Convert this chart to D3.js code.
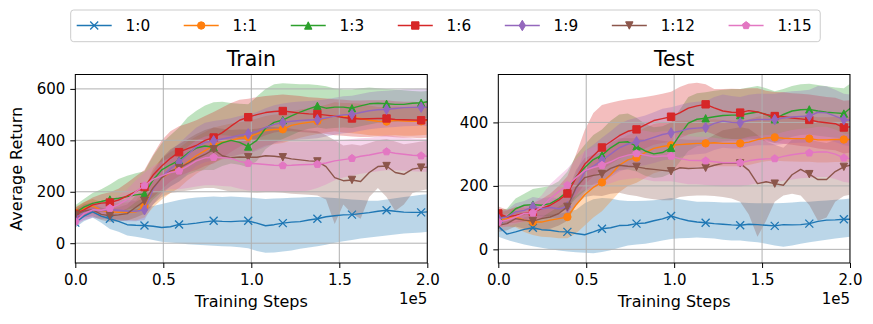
<!DOCTYPE html>
<html><head><meta charset="utf-8">
<script src="https://cdn.jsdelivr.net/npm/d3@7"></script>
<style>body{margin:0;background:#fff} svg text{font-family:"DejaVu Sans",sans-serif;fill:#000}</style>
</head><body><svg id="chart" width="873" height="324"></svg>
<script>
const seriesLabels = ["1:0","1:1","1:3","1:6","1:9","1:12","1:15"];
const seriesColors = ["#1f77b4","#ff7f0e","#2ca02c","#d62728","#9467bd","#8c564b","#e377c2"];
const seriesMarkers = ["x","o","^","s","d","v","p"];
const steps = [0,4910,9830,14740,19650,24560,29480,34390,39300,44210,49130,54040,58950,63860,68780,73690,78600,83510,88430,93340,98250,103160,108080,112990,117900,122810,127730,132640,137550,142460,147380,152290,157200,162110,167030,171940,176850,181760,186680,191590,196500,200000];
const markEvery = 4;
const xTicks = [0,50000,100000,150000,200000];
const trainYTicks = [0,200,400,600];
const testYTicks = [0,200,400];

const trainMean = [
 [80,105,122,105,95,85,72,70,69,66,61,64,73,74,78,83,87,85,84,86,87,78,68,72,78,82,84,90,95,103,107,110,111,115,119,124,128,124,121,120,120,122],
 [118,135,145,128,122,120,120,122,145,214,255,275,290,315,340,360,380,393,400,408,413,425,438,442,443,458,465,470,475,485,497,492,490,485,478,474,473,478,475,474,474,478],
 [118,140,155,162,170,175,181,188,192,246,285,305,322,350,370,378,373,390,400,392,376,400,447,470,479,495,510,522,534,525,529,529,525,534,542,544,542,540,540,544,546,550],
 [114,130,149,156,158,168,184,201,218,265,300,330,354,368,380,400,411,430,455,478,490,500,508,512,514,510,506,503,502,498,494,489,485,483,484,485,485,481,480,479,478,480],
 [100,118,128,128,130,128,125,124,130,210,258,290,314,345,375,392,398,405,412,420,425,435,450,462,469,474,477,479,480,487,494,499,501,508,515,519,521,524,527,528,529,528],
 [110,125,130,112,107,110,115,140,164,215,255,280,292,310,330,345,365,340,332,335,334,334,340,338,334,328,324,320,318,298,255,243,246,240,275,298,300,275,268,288,294,296],
 [84,115,130,128,136,150,170,200,224,248,262,275,281,300,320,332,334,332,330,318,311,309,306,303,302,303,305,306,307,312,320,325,330,338,343,350,356,350,346,342,340,338]
];
const trainLow = [
 [60,85,100,80,55,45,30,25,19,12,6,3,0,-4,-6,-8,-10,-12,-13,-16,-20,-30,-37,-36,-32,-28,-22,-17,-12,-6,2,8,12,18,22,26,30,34,38,40,42,45],
 [95,110,115,100,95,92,90,88,100,140,170,195,215,245,270,290,315,325,335,345,350,365,380,385,390,400,410,418,425,430,435,430,428,425,420,418,418,420,418,418,420,422],
 [92,105,118,122,125,122,120,122,128,170,200,220,240,265,280,285,285,300,310,305,295,320,365,390,405,420,435,445,450,445,448,450,448,455,462,468,470,472,475,478,482,488],
 [92,105,118,120,118,122,130,140,150,180,210,240,260,275,285,300,310,330,355,375,390,405,420,430,435,435,432,430,428,425,420,418,415,413,413,415,415,412,410,410,408,410],
 [78,90,98,95,92,88,85,85,90,150,190,220,240,270,300,315,322,330,338,345,350,360,375,388,395,400,403,405,408,415,422,428,430,437,443,447,450,452,455,456,457,456],
 [88,100,105,90,82,85,88,100,115,150,180,195,200,205,210,215,215,208,200,200,198,196,198,198,196,192,190,188,185,170,75,150,115,95,180,215,180,125,150,195,205,210],
 [65,90,105,105,112,120,135,160,180,195,205,210,210,215,220,225,225,222,220,212,205,203,200,200,200,200,200,205,215,228,245,255,262,270,275,280,284,284,282,280,278,278]
];
const trainHigh = [
 [108,130,142,138,132,128,128,132,138,145,152,160,168,174,178,180,182,180,182,180,178,175,172,174,175,177,178,180,180,178,176,173,170,168,165,165,170,175,180,184,188,190],
 [140,160,172,160,155,155,158,165,210,290,330,355,370,395,415,432,450,458,465,470,475,485,495,500,502,512,520,525,530,538,548,545,545,542,535,530,530,532,530,530,530,535],
 [148,172,195,210,228,250,262,272,280,340,390,420,450,490,515,535,548,550,545,542,540,570,600,618,622,620,618,618,615,610,602,598,598,603,605,603,600,598,595,592,590,592],
 [138,158,178,190,198,212,235,260,285,345,400,435,455,465,478,495,510,528,545,558,562,568,572,575,578,575,572,568,566,563,560,558,555,555,556,556,556,552,550,550,548,550],
 [122,145,158,162,168,170,168,165,172,270,325,360,388,420,450,468,475,480,486,495,500,510,525,536,543,548,551,553,555,560,566,571,573,580,587,591,593,596,599,600,601,600],
 [130,150,158,138,132,140,150,185,215,280,330,365,385,405,425,440,450,445,440,442,442,445,452,452,450,445,440,438,435,420,400,380,385,380,390,400,405,395,385,390,395,398],
 [105,140,158,155,165,185,210,245,275,300,318,335,350,375,400,415,420,420,418,410,405,403,400,398,395,395,395,396,398,400,402,402,405,408,410,415,420,416,412,408,405,405]
];

const testMean = [
 [73,48,55,63,68,62,60,56,55,50,46,55,65,68,75,76,81,83,90,96,105,97,90,86,84,81,79,77,76,79,78,76,74,78,77,78,81,88,92,93,95,95],
 [92,97,102,92,86,86,92,97,102,140,172,195,211,235,265,282,289,305,318,324,328,330,332,334,334,336,334,334,334,338,346,351,353,350,349,349,349,345,345,346,346,346],
 [102,102,128,139,141,139,144,160,182,228,258,283,297,320,337,339,325,310,301,305,320,360,398,410,413,418,422,423,423,428,433,425,410,425,436,440,441,436,432,430,428,444],
 [113,102,107,113,118,128,139,155,176,225,268,295,321,339,358,372,378,392,406,412,418,430,445,452,457,446,436,432,431,437,433,425,420,418,414,411,408,402,399,396,384,386],
 [97,102,118,123,134,128,132,128,134,190,245,262,281,300,320,332,339,344,353,362,367,372,380,382,384,397,404,400,399,406,409,409,409,414,417,419,420,432,430,420,409,407],
 [76,81,97,92,89,97,102,113,134,195,226,233,237,255,265,262,260,255,252,249,246,257,255,256,257,265,271,271,271,249,207,213,207,202,235,252,237,220,220,245,260,265],
 [86,92,102,113,115,134,160,182,202,226,248,258,265,276,289,297,302,297,292,294,294,286,281,280,279,276,273,273,273,279,283,285,286,293,298,302,304,307,307,300,288,286]
];
const testLow = [
 [40,30,22,15,10,5,0,-4,-7,-9,-11,-12,-8,-3,5,12,15,18,22,28,33,35,36,37,36,34,30,28,28,25,22,18,12,8,12,18,22,26,30,34,37,40],
 [70,72,70,55,45,40,38,35,35,50,75,100,120,150,180,200,210,225,240,248,252,255,258,260,260,262,262,262,262,266,272,278,280,278,277,276,276,274,274,275,275,275],
 [80,82,100,108,108,104,105,115,130,160,185,205,215,235,250,252,245,232,225,228,240,275,310,325,330,335,340,342,342,345,350,345,335,345,355,360,362,358,355,352,350,362],
 [90,82,85,88,92,98,105,115,130,170,205,230,252,268,285,298,305,318,330,335,340,350,362,368,372,362,352,348,346,350,347,340,335,333,330,326,323,318,315,312,302,305],
 [75,80,92,95,102,98,100,98,100,140,180,195,210,228,245,255,262,265,272,280,285,290,297,300,302,313,320,318,318,325,328,328,328,332,335,336,337,348,346,338,328,326],
 [55,60,72,65,60,62,65,75,90,140,165,170,168,175,178,172,168,162,158,155,155,165,168,170,170,168,165,160,150,110,40,90,150,170,175,170,140,90,100,150,168,172],
 [68,72,80,88,88,100,118,135,150,170,188,195,200,208,218,222,225,220,215,215,215,210,205,205,203,200,198,198,198,203,208,210,210,216,220,224,226,228,228,222,212,210]
];
const testHigh = [
 [95,85,88,100,108,108,110,112,118,125,145,158,162,160,155,152,152,153,155,158,162,158,154,150,150,149,148,148,148,146,145,145,145,146,148,150,150,152,154,156,158,160],
 [115,122,135,130,128,132,145,158,170,220,260,285,300,320,345,360,368,383,395,400,403,405,406,407,408,410,408,406,406,410,418,423,425,422,420,420,420,416,416,417,417,417],
 [125,128,160,175,190,195,200,215,245,295,330,360,378,405,425,428,415,395,385,388,400,440,480,492,495,500,503,505,505,510,515,508,498,505,515,520,522,518,514,510,508,522],
 [135,125,130,138,145,158,175,200,230,300,375,430,455,462,468,473,476,480,485,490,497,512,522,525,520,505,505,506,505,508,508,500,496,495,492,490,488,484,480,478,468,470],
 [120,125,145,152,165,160,165,160,170,240,310,330,352,372,395,408,415,422,432,443,448,455,462,465,467,480,488,483,480,487,490,490,490,495,498,500,503,515,514,503,490,488],
 [98,105,122,118,118,130,140,152,178,250,288,298,305,335,350,350,350,345,345,342,338,348,345,345,345,360,375,380,385,380,360,340,330,320,345,350,345,340,335,345,355,360],
 [105,112,125,140,145,170,205,230,255,285,310,322,330,345,360,370,378,374,368,372,372,362,357,355,355,352,348,348,348,355,358,360,362,370,376,380,382,386,386,378,364,362]
];

const svg = d3.select("#chart");
const FONT = "DejaVu Sans, sans-serif";

function markerPath(type, h) {
  switch (type) {
    case "x": return `M${-h},${-h}L${h},${h}M${-h},${h}L${h},${-h}`;
    case "o": return d3.symbol(d3.symbolCircle, Math.PI * h * h)();
    case "^": return `M0,${-h}L${h},${h}L${-h},${h}Z`;
    case "v": return `M0,${h}L${h},${-h}L${-h},${-h}Z`;
    case "s": return `M${-h},${-h}H${h}V${h}H${-h}Z`;
    case "d": { const a = h * 1.414, b = h * 0.85; return `M0,${-a}L${b},0L0,${a}L${-b},0Z`; }
    case "p": {
      const pts = d3.range(5).map(k => { const ang = -Math.PI / 2 + k * 2 * Math.PI / 5; return [h * 1.05 * Math.cos(ang), h * 1.05 * Math.sin(ang)]; });
      return "M" + pts.map(p => p.join(",")).join("L") + "Z";
    }
  }
}

function drawMarker(g, type, color, cx, cy) {
  const isX = type === "x";
  g.append("path").attr("d", markerPath(type, isX ? 4 : 3.7))
    .attr("transform", `translate(${cx},${cy})`)
    .attr("fill", isX ? "none" : color)
    .attr("stroke", color).attr("stroke-width", isX ? 1.3 : 1);
}

const panels = [
  {id: "tr", title: "Train", left: 75.3, right: 427.3, top: 74.5, bottom: 263, yDom: [-77, 656], yTicks: trainYTicks, mean: trainMean, low: trainLow, high: trainHigh, ylabel: true},
  {id: "te", title: "Test", left: 498.3, right: 850, top: 74.5, bottom: 263, yDom: [-43, 551], yTicks: testYTicks, mean: testMean, low: testLow, high: testHigh, ylabel: false}
];

const defs = svg.append("defs");

panels.forEach(p => {
  const x = d3.scaleLinear().domain([0, 200000]).range([p.left, p.right]);
  const y = d3.scaleLinear().domain(p.yDom).range([p.bottom, p.top]);
  defs.append("clipPath").attr("id", "clip-" + p.id).append("rect")
    .attr("x", p.left).attr("y", p.top).attr("width", p.right - p.left).attr("height", p.bottom - p.top);
  const g = svg.append("g");
  const plot = g.append("g").attr("clip-path", `url(#clip-${p.id})`);

  // bands
  p.low.forEach((lo, k) => {
    const hi = p.high[k];
    const area = d3.area().x((d, i) => x(steps[i])).y0((d, i) => y(lo[i])).y1((d, i) => y(hi[i]));
    plot.append("path").datum(lo).attr("d", area).attr("fill", seriesColors[k]).attr("fill-opacity", 0.3).attr("stroke", "none");
  });

  // grid
  xTicks.forEach(t => plot.append("line").attr("x1", x(t)).attr("x2", x(t)).attr("y1", p.top).attr("y2", p.bottom).attr("stroke", "#b0b0b0").attr("stroke-width", 1));
  p.yTicks.forEach(t => plot.append("line").attr("x1", p.left).attr("x2", p.right).attr("y1", y(t)).attr("y2", y(t)).attr("stroke", "#b0b0b0").attr("stroke-width", 1));

  // lines and markers
  p.mean.forEach((m, k) => {
    const line = d3.line().x((d, i) => x(steps[i])).y(d => y(d));
    plot.append("path").datum(m).attr("d", line).attr("fill", "none").attr("stroke", seriesColors[k]).attr("stroke-width", 1.4).attr("stroke-linejoin", "round");
    m.forEach((v, i) => { if (i % markEvery === 0) drawMarker(plot, seriesMarkers[k], seriesColors[k], x(steps[i]), y(v)); });
  });

  // spines
  g.append("rect").attr("x", p.left).attr("y", p.top).attr("width", p.right - p.left).attr("height", p.bottom - p.top)
    .attr("fill", "none").attr("stroke", "#000").attr("stroke-width", 1);

  // axes
  const xa = g.append("g").attr("transform", `translate(0,${p.bottom})`)
    .call(d3.axisBottom(x).tickValues(xTicks).tickFormat(v => (v / 1e5).toFixed(1)).tickSize(5).tickPadding(6));
  const ya = g.append("g").attr("transform", `translate(${p.left},0)`)
    .call(d3.axisLeft(y).tickValues(p.yTicks).tickFormat(d3.format("d")).tickSize(5).tickPadding(5));
  [xa, ya].forEach(a => {
    a.select(".domain").remove();
    a.attr("font-family", FONT).attr("font-size", 15);
    a.selectAll("line").attr("stroke", "#000").attr("stroke-width", 1);
    a.selectAll("text").attr("fill", "#000");
  });

  g.append("text").attr("x", (p.left + p.right) / 2).attr("y", 66).attr("text-anchor", "middle")
    .attr("font-size", 20.5).text(p.title);
  g.append("text").attr("x", (p.left + p.right) / 2).attr("y", 307).attr("text-anchor", "middle")
    .attr("font-size", 16).text("Training Steps");
  g.append("text").attr("x", p.right).attr("y", 304).attr("text-anchor", "end")
    .attr("font-size", 15).text("1e5");
  if (p.ylabel) {
    g.append("text").attr("transform", `translate(22,${(p.top + p.bottom) / 2}) rotate(-90)`)
      .attr("text-anchor", "middle").attr("font-size", 16).text("Average Return");
  }
});

// legend
const lg = svg.append("g");
const box = lg.append("rect").attr("x", 70.7).attr("y", 10).attr("height", 31.7).attr("rx", 3)
  .attr("fill", "#fff").attr("fill-opacity", 0.8).attr("stroke", "#cccccc").attr("stroke-width", 1);
let lx = 76.7;
seriesLabels.forEach((lab, k) => {
  lg.append("line").attr("x1", lx).attr("x2", lx + 35).attr("y1", 25.5).attr("y2", 25.5)
    .attr("stroke", seriesColors[k]).attr("stroke-width", 1.4);
  drawMarker(lg, seriesMarkers[k], seriesColors[k], lx + 17.5, 25.5);
  const t = lg.append("text").attr("x", lx + 48.8).attr("y", 31.3).attr("font-size", 15.3).text(lab);
  const w = t.node().getComputedTextLength();
  lx = lx + 48.8 + w + 33.6;
});
box.attr("width", lx - 33.6 + 8.5 - 70.7);
</script></body></html>
